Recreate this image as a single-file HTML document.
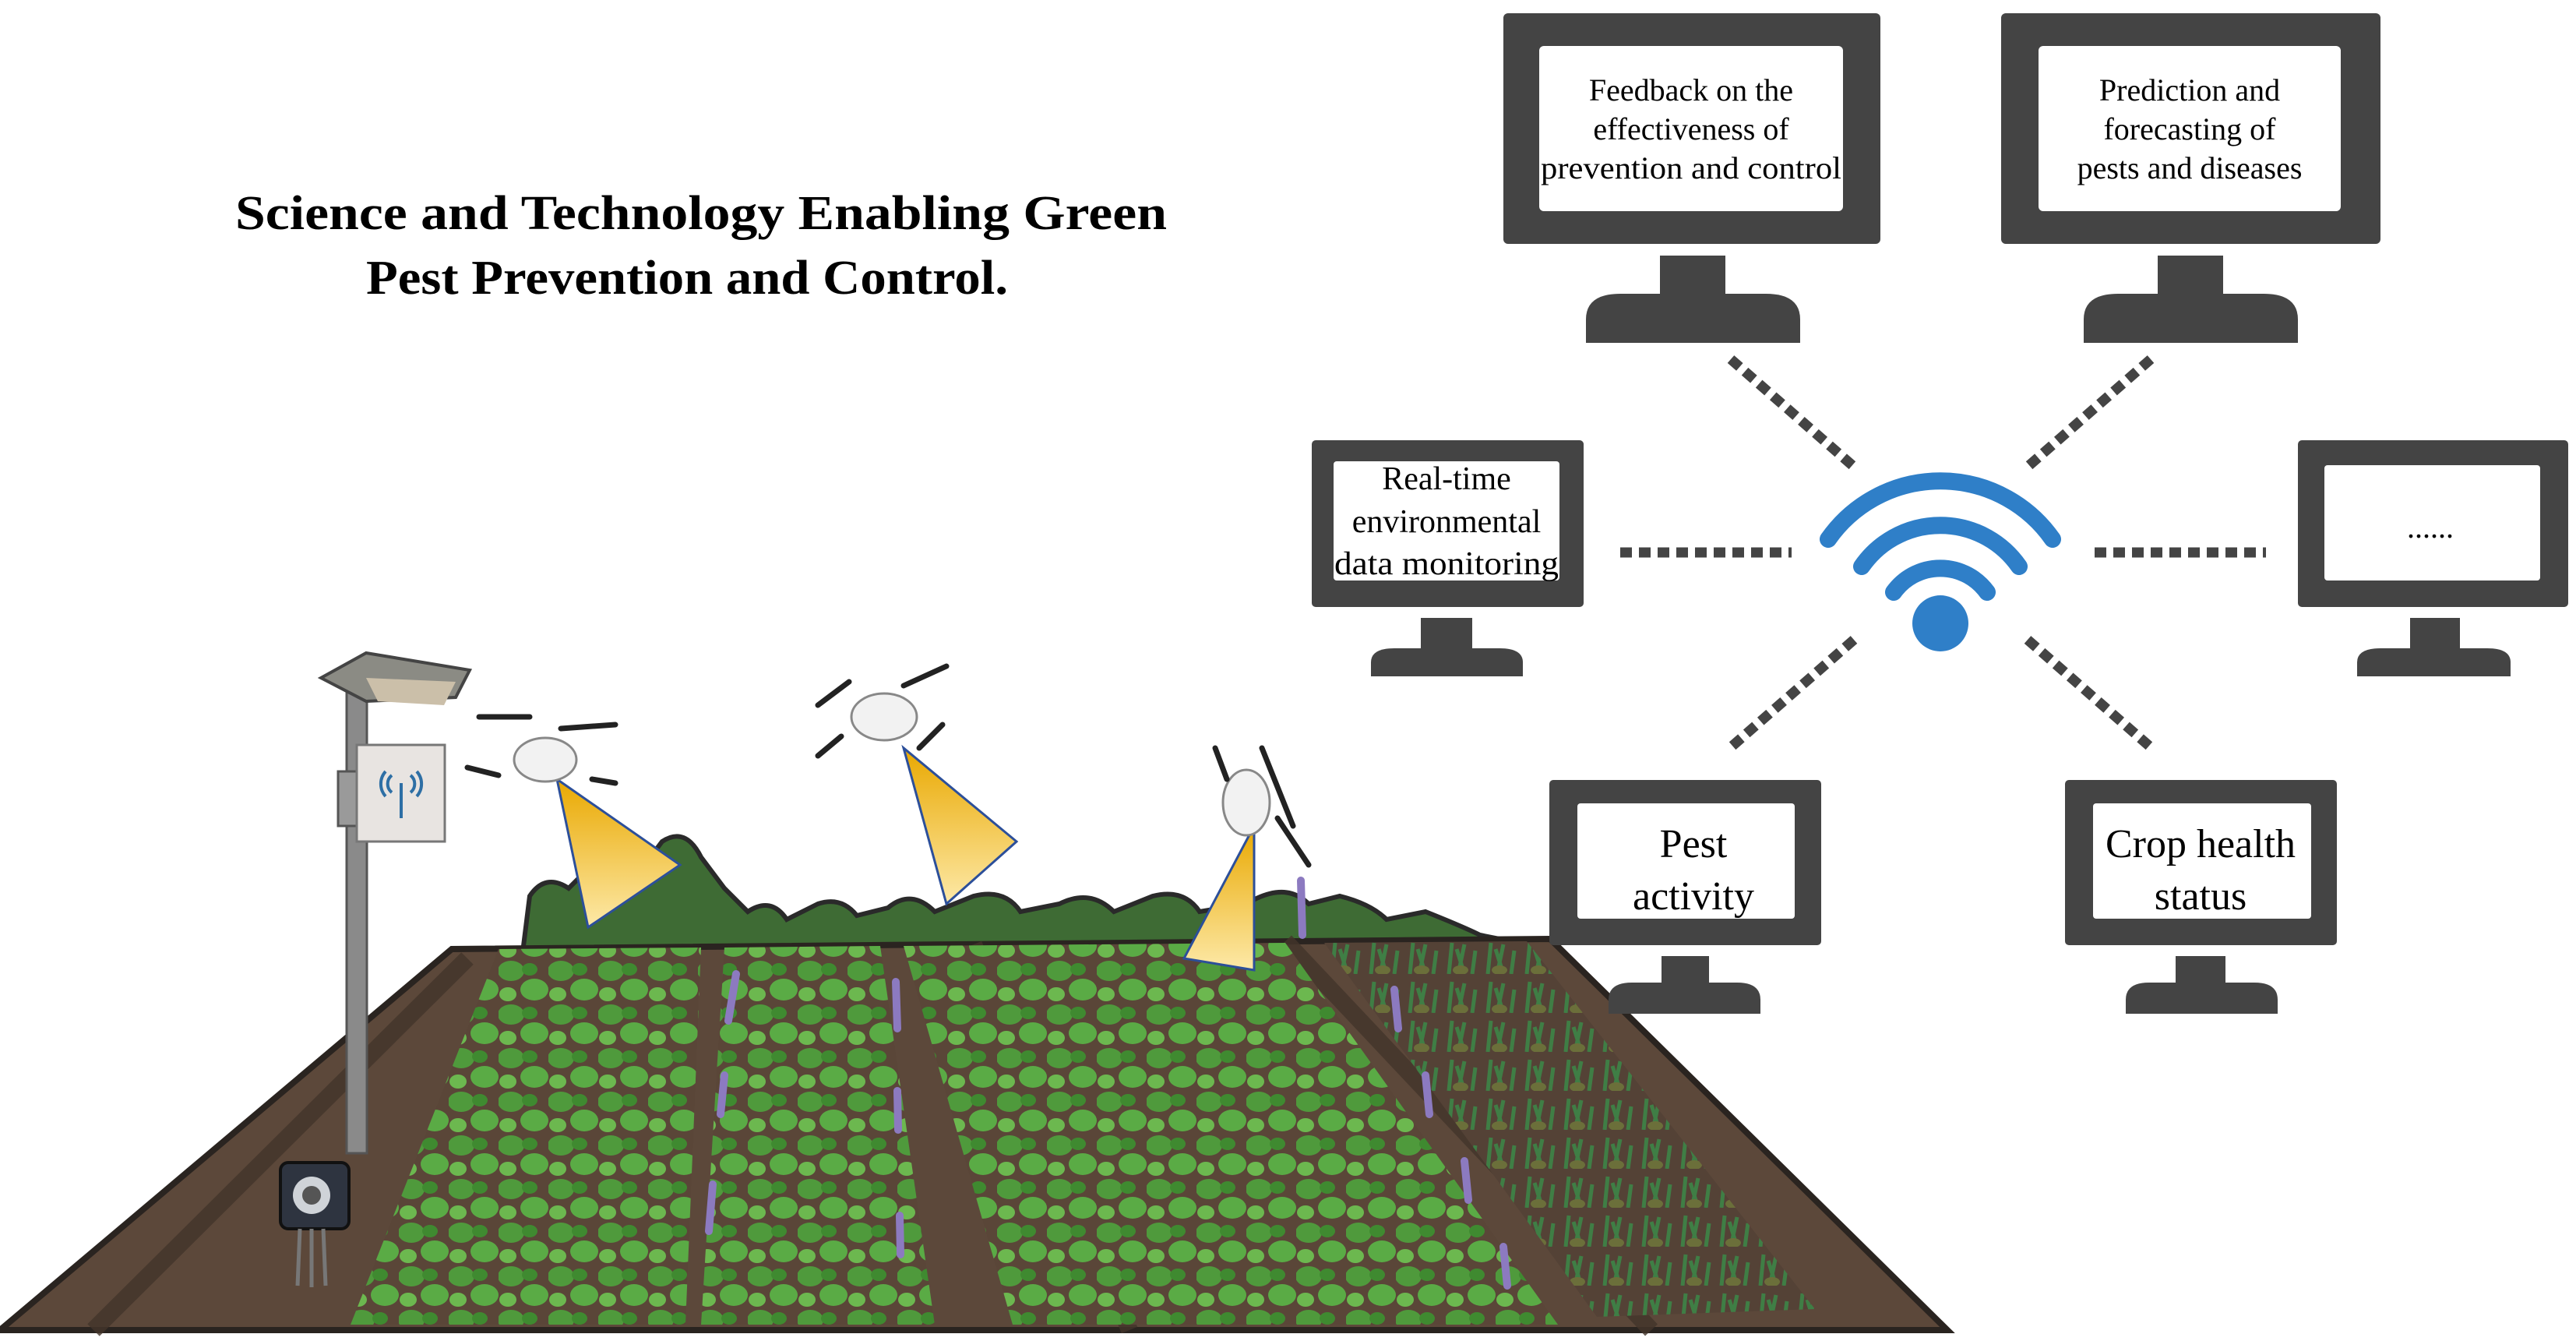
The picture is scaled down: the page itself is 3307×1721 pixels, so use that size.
<!DOCTYPE html>
<html><head><meta charset="utf-8">
<style>
html,body{margin:0;padding:0;background:#fff;}
svg{display:block;}
</style></head>
<body>
<svg width="3307" height="1721" viewBox="0 0 3307 1721" xmlns="http://www.w3.org/2000/svg">
<defs>
  <pattern id="leaf" width="64" height="56" patternUnits="userSpaceOnUse">
    <rect width="64" height="56" fill="#5a4638"/>
    <ellipse cx="16" cy="14" rx="17" ry="13" fill="#4f9a3c"/>
    <ellipse cx="46" cy="38" rx="18" ry="14" fill="#5aab45"/>
    <ellipse cx="40" cy="12" rx="10" ry="8" fill="#3f8a30"/>
    <ellipse cx="12" cy="44" rx="11" ry="9" fill="#6cb84f"/>
  </pattern>
  <pattern id="grass" width="50" height="50" patternUnits="userSpaceOnUse">
    <rect width="50" height="50" fill="#544236"/>
    <path d="M10 50 L14 10 M22 50 L30 12 M30 50 L20 18 M40 50 L44 20" stroke="#3f7e45" stroke-width="5" fill="none"/>
    <ellipse cx="25" cy="45" rx="10" ry="6" fill="#6b6f3a"/>
  </pattern>
  <linearGradient id="cone" x1="0" y1="0" x2="0" y2="1">
    <stop offset="0" stop-color="#e9a800"/>
    <stop offset="1" stop-color="#fde9a8"/>
  </linearGradient>
</defs>

<!-- Title -->
<g font-family="'Liberation Serif',serif" font-weight="bold" fill="#000" font-size="62">
  <text x="302" y="294" textLength="1196" lengthAdjust="spacingAndGlyphs">Science and Technology Enabling Green</text>
  <text x="470" y="377" textLength="824" lengthAdjust="spacingAndGlyphs">Pest Prevention and Control.</text>
</g>

<!-- top plant clumps -->
<path d="M670 1230 L680 1150 Q700 1120 730 1140 L760 1110 Q790 1090 820 1120 L850 1080 Q880 1060 900 1100 L930 1140 L960 1170 Q990 1150 1010 1180 L1050 1160 Q1080 1150 1100 1175 L1140 1165 Q1170 1140 1200 1170 L1250 1150 Q1290 1140 1310 1170 L1360 1160 Q1400 1140 1430 1170 L1480 1150 Q1520 1140 1540 1170 L1600 1160 Q1650 1130 1680 1160 L1720 1150 Q1760 1160 1780 1180 L1830 1170 Q1880 1190 1900 1200 L1950 1210 L1960 1240 L670 1240 Z" fill="#3e6b34" stroke="#2a2a2a" stroke-width="6"/>

<!-- Field -->
<polygon points="0,1707 580,1218 1990,1205 2500,1707" fill="#5c483a" stroke="#2a2420" stroke-width="8"/>
<g stroke="#43352b" stroke-width="22" opacity="0.8">
  <line x1="600" y1="1230" x2="120" y2="1707"/>
  <line x1="1250" y1="1212" x2="1450" y2="1707"/>
  <line x1="1650" y1="1208" x2="2120" y2="1707"/>
</g>
<!-- plants -->
<polygon points="640,1218 900,1216 880,1700 450,1700" fill="url(#leaf)"/>
<polygon points="930,1216 1130,1214 1200,1700 900,1700" fill="url(#leaf)"/>
<polygon points="1160,1214 1650,1210 2000,1700 1300,1700" fill="url(#leaf)"/>
<polygon points="1700,1210 1960,1208 2330,1680 2050,1690" fill="url(#grass)"/>
<g stroke="#8c7ac0" stroke-width="10" stroke-linecap="round">
  <line x1="945" y1="1250" x2="935" y2="1310"/><line x1="930" y1="1380" x2="925" y2="1430"/><line x1="915" y1="1520" x2="910" y2="1580"/>
  <line x1="1150" y1="1260" x2="1152" y2="1320"/><line x1="1152" y1="1400" x2="1153" y2="1450"/><line x1="1155" y1="1560" x2="1156" y2="1610"/>
  <line x1="1790" y1="1270" x2="1795" y2="1320"/><line x1="1830" y1="1380" x2="1835" y2="1430"/><line x1="1880" y1="1490" x2="1885" y2="1540"/><line x1="1930" y1="1600" x2="1935" y2="1650"/>
  <line x1="1670" y1="1130" x2="1672" y2="1200"/>
</g>

<!-- Lamp post -->
<rect x="445" y="880" width="26" height="600" fill="#8a8a8a" stroke="#555" stroke-width="3"/>
<polygon points="412,870 470,838 603,860 585,895 470,900" fill="#8b8b84" stroke="#444" stroke-width="4"/>
<polygon points="470,870 585,875 570,905 485,900" fill="#cbbfa9"/>
<rect x="434" y="990" width="30" height="70" fill="#9a9a9a" stroke="#555" stroke-width="3"/>
<rect x="458" y="956" width="113" height="124" fill="#e8e4e1" stroke="#777" stroke-width="3"/>
<g stroke="#2e6fa5" stroke-width="4" fill="none">
  <line x1="515" y1="1005" x2="515" y2="1050"/>
  <path d="M503 995 a14 14 0 0 0 0 22"/><path d="M527 995 a14 14 0 0 1 0 22"/>
  <path d="M495 990 a24 24 0 0 0 0 32"/><path d="M535 990 a24 24 0 0 1 0 32"/>
</g>
<rect x="360" y="1492" width="88" height="85" rx="10" fill="#2e3440" stroke="#111" stroke-width="4"/>
<circle cx="400" cy="1534" r="24" fill="#cfd3d8"/><circle cx="400" cy="1534" r="12" fill="#555"/>
<g stroke="#777" stroke-width="5"><line x1="385" y1="1577" x2="382" y2="1650"/><line x1="400" y1="1577" x2="400" y2="1652"/><line x1="415" y1="1577" x2="418" y2="1650"/></g>

<!-- cones -->
<polygon points="715,1000 755,1190 873,1110" fill="url(#cone)" stroke="#2c4f9a" stroke-width="3"/>
<polygon points="1160,960 1215,1160 1305,1080" fill="url(#cone)" stroke="#2c4f9a" stroke-width="3"/>
<polygon points="1610,1060 1520,1230 1610,1245" fill="url(#cone)" stroke="#2c4f9a" stroke-width="3"/>

<!-- drones -->
<g fill="#f2f2f2" stroke="#888" stroke-width="3">
  <ellipse cx="700" cy="975" rx="40" ry="28"/>
  <ellipse cx="1135" cy="920" rx="42" ry="30"/>
  <ellipse cx="1600" cy="1030" rx="30" ry="42"/>
</g>
<g stroke="#222" stroke-width="7" stroke-linecap="round">
  <line x1="615" y1="920" x2="680" y2="920"/><line x1="720" y1="935" x2="790" y2="930"/><line x1="600" y1="985" x2="640" y2="995"/><line x1="760" y1="1000" x2="790" y2="1005"/>
  <line x1="1050" y1="905" x2="1090" y2="875"/><line x1="1160" y1="880" x2="1215" y2="855"/><line x1="1050" y1="970" x2="1080" y2="945"/><line x1="1180" y1="960" x2="1210" y2="930"/>
  <line x1="1560" y1="960" x2="1575" y2="1000"/><line x1="1620" y1="960" x2="1660" y2="1060"/><line x1="1640" y1="1050" x2="1680" y2="1110"/>
</g>

<!-- Connectors -->
<g stroke="#444" stroke-width="13" stroke-dasharray="15 9">
  <line x1="2080" y1="709" x2="2300" y2="709"/>
  <line x1="2689" y1="709" x2="2909" y2="709"/>
  <line x1="2222" y1="461" x2="2380" y2="599"/>
  <line x1="2761" y1="461" x2="2603" y2="599"/>
  <line x1="2380" y1="821" x2="2222" y2="959"/>
  <line x1="2603" y1="821" x2="2761" y2="959"/>
</g>

<!-- WiFi -->
<g fill="none" stroke="#2f7fc8" stroke-width="22" stroke-linecap="round">
  <path d="M2347 692 A176 176 0 0 1 2635 692"/>
  <path d="M2390 727 A123 123 0 0 1 2592 727"/>
  <path d="M2431 760 A74 74 0 0 1 2551 760"/>
</g>
<circle cx="2491" cy="800" r="36" fill="#2f7fc8"/>

<!-- Monitors -->
<g fill="#444">
  <rect x="1930" y="17" width="484" height="296" rx="6"/>
  <rect x="2131" y="328" width="84" height="49"/>
  <path d="M2036 440 L2036 410 Q2036 377 2080 377 L2267 377 Q2311 377 2311 410 L2311 440 Z"/>
  <rect x="2569" y="17" width="487" height="296" rx="6"/>
  <rect x="2770" y="328" width="84" height="49"/>
  <path d="M2675 440 L2675 410 Q2675 377 2719 377 L2906 377 Q2950 377 2950 410 L2950 440 Z"/>
  <rect x="1684" y="565" width="349" height="214" rx="5"/>
  <rect x="1824" y="793" width="66" height="39"/>
  <path d="M1760 868 L1760 850 Q1760 832 1790 832 L1925 832 Q1955 832 1955 850 L1955 868 Z"/>
  <rect x="2950" y="565" width="347" height="214" rx="5"/>
  <rect x="3094" y="793" width="64" height="39"/>
  <path d="M3026 868 L3026 850 Q3026 832 3056 832 L3193 832 Q3223 832 3223 850 L3223 868 Z"/>
  <rect x="1989" y="1001" width="349" height="212" rx="5"/>
  <rect x="2133" y="1227" width="61" height="34"/>
  <path d="M2065 1301 L2065 1283 Q2065 1261 2095 1261 L2230 1261 Q2260 1261 2260 1283 L2260 1301 Z"/>
  <rect x="2651" y="1001" width="349" height="212" rx="5"/>
  <rect x="2793" y="1227" width="64" height="34"/>
  <path d="M2729 1301 L2729 1283 Q2729 1261 2759 1261 L2894 1261 Q2924 1261 2924 1283 L2924 1301 Z"/>
</g>
<g fill="#fff">
  <rect x="1976" y="59" width="390" height="212" rx="6"/>
  <rect x="2617" y="59" width="388" height="212" rx="6"/>
  <rect x="1712" y="592" width="290" height="153" rx="4"/>
  <rect x="2984" y="597" width="277" height="148" rx="4"/>
  <rect x="2025" y="1031" width="279" height="148" rx="4"/>
  <rect x="2687" y="1031" width="280" height="148" rx="4"/>
</g>
<g font-family="'Liberation Serif',serif" fill="#000" text-anchor="middle">
  <g font-size="40">
    <text x="2171" y="129">Feedback on the</text>
    <text x="2171" y="179">effectiveness of</text>
    <text x="2171" y="229" textLength="386" lengthAdjust="spacingAndGlyphs">prevention and control</text>
    <text x="2811" y="129">Prediction and</text>
    <text x="2811" y="179">forecasting of</text>
    <text x="2811" y="229">pests and diseases</text>
  </g>
  <g font-size="42">
    <text x="1857" y="628">Real-time</text>
    <text x="1857" y="683">environmental</text>
    <text x="1857" y="737" textLength="288" lengthAdjust="spacingAndGlyphs">data monitoring</text>
  </g>
  <text x="3120" y="690" font-size="40">......</text>
  <g font-size="52">
    <text x="2174" y="1100">Pest</text>
    <text x="2174" y="1167">activity</text>
    <text x="2825" y="1100">Crop health</text>
    <text x="2825" y="1167">status</text>
  </g>
</g>
</svg>
</body></html>
